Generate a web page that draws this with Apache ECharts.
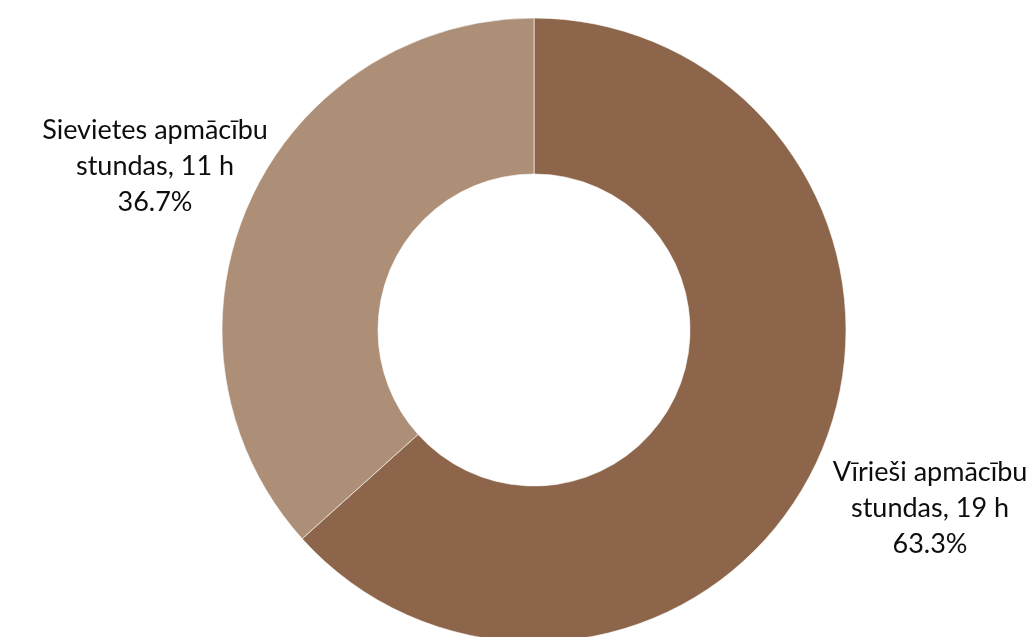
<!DOCTYPE html>
<html>
<head>
<meta charset="utf-8">
<script src="https://cdn.jsdelivr.net/npm/echarts@6/dist/echarts.min.js"></script>
<style>
html,body{margin:0;padding:0;background:#fff;}
#chart{width:1033px;height:637px;}
</style>
</head>
<body>
<div id="chart"></div>
<script>
const categories = ['Vīrieši apmācību stundas', 'Sievietes apmācību stundas'];
const values = [19, 11];
const displayNames = ['Vīrieši apmācību\nstundas', 'Sievietes apmācību\nstundas'];
const colors = ['#8C654A', '#AD8F77'];
const labelCenters = [[930, 508], [155, 166]];

const chart = echarts.init(document.getElementById('chart'), null, {renderer: 'canvas'});
const data = categories.map((c, i) => ({
  name: c,
  value: values[i],
  itemStyle: {color: colors[i]}
}));
chart.setOption({
  animation: false,
  series: [{
    type: 'pie',
    center: [534, 330],
    radius: [156, 312],
    startAngle: 90,
    clockwise: true,
    data: data,
    itemStyle: {borderColor: '#ffffff', borderWidth: 0.6},
    label: {
      show: true,
      position: 'outside',
      formatter: function (p) {
        const idx = p.dataIndex;
        return displayNames[idx] + ', ' + p.value + ' h\n' + p.percent.toFixed(1) + '%';
      },
      fontFamily: 'Lato',
      fontSize: 27,
      lineHeight: 36,
      color: '#0d0d0d',
      align: 'center',
      width: 400,
      overflow: 'none'
    },
    labelLine: {show: false},
    labelLayout: function (params) {
      const c = labelCenters[params.dataIndex];
      return {x: c[0], y: c[1], align: 'center', verticalAlign: 'middle', hideOverlap: false, moveOverlap: null};
    },
    emphasis: {disabled: true}
  }]
});
</script>
</body>
</html>
